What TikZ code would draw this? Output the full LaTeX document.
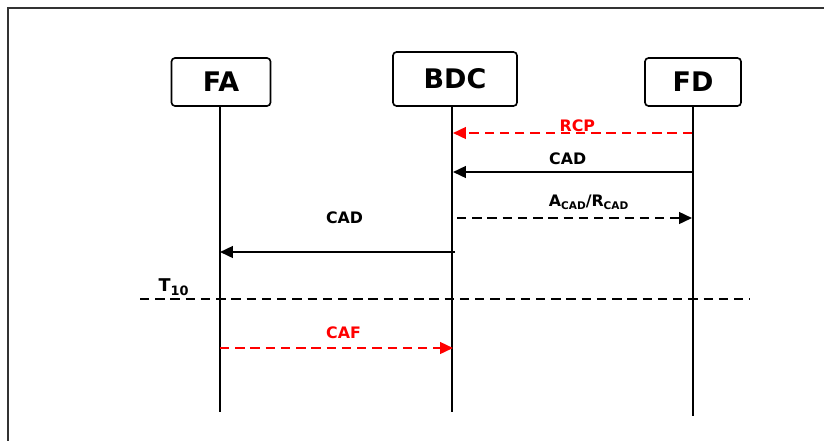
\documentclass[tikz,border=0pt]{standalone}
\usepackage{fontspec}
\setmainfont{DejaVu Sans}
\usepackage{xcolor}
\usetikzlibrary{arrows.meta}
\tikzstyle{actor} = [rectangle, draw, rounded corners=3pt, line width=1.4pt, font=\bfseries\fontsize{23}{26}\selectfont]
\tikzstyle{life} = [-, line width=1.7pt]
\tikzstyle{msg} = [line width=1.7pt, font=\bfseries\fontsize{13.5}{15}\selectfont]
\tikzstyle{dsh} = [dash pattern=on 8pt off 5pt]
\newcommand{\sub}[1]{\raisebox{-0.35ex}{\fontsize{9}{10}\selectfont #1}}

\begin{document}
\begin{tikzpicture}[x=0.03cm,y=-0.03cm,->,>={Triangle[length=11pt,width=10pt]},semithick]
  \useasboundingbox (0,0) rectangle (824,440);
  \begin{scope}
    \clip (0,0) rectangle (824,440);
    \draw[-, line width=1.6pt, black!80] (8,8) rectangle (840,460);
  \end{scope}

  \node[actor, minimum width=2.97cm, minimum height=1.44cm] (FA) at (221,82) {FA};
  \node[actor, minimum width=3.72cm, minimum height=1.62cm] (BDC) at (455,79) {BDC};
  \node[actor, minimum width=2.88cm, minimum height=1.44cm] (FD) at (693,82) {FD};

  % lifelines
  \coordinate (FA_end) at (220,412);
  \coordinate (BDC_end) at (452,412);
  \coordinate (FD_end) at (693,416);
  \draw[life] (FA.south -| FA_end) -- (FA_end);
  \draw[life] (BDC.south -| BDC_end) -- (BDC_end);
  \draw[life] (FD.south -| FD_end) -- (FD_end);

  % message points
  \coordinate (FD_1) at (692,133);  \coordinate (BDC_1) at (453,133);
  \coordinate (FD_2) at (692,172);  \coordinate (BDC_2) at (453,172);
  \coordinate (BDC_3) at (457,218); \coordinate (FD_3) at (692,218);
  \coordinate (BDC_4) at (455,252); \coordinate (FA_4) at (220,252);
  \coordinate (T_a) at (140,299);   \coordinate (T_b) at (750,299);
  \coordinate (FA_6) at (220,348);  \coordinate (BDC_6) at (453,348);

  \path (FD_1) edge[msg, dsh, red] node[above=-3pt, pos=0.48] {RCP} (BDC_1);
  \path (FD_2) edge[msg] node[above=2pt, pos=0.52] {CAD} (BDC_2);
  \path (BDC_3) edge[msg, dsh] node[above=3pt, pos=0.56] {A\sub{CAD}/R\sub{CAD}} (FD_3);
  \path (BDC_4) edge[msg] node[above=20pt, pos=0.47] {CAD} (FA_4);
  \path (T_a) edge[msg, dsh, -] node[above=-1pt, pos=0.055] {\fontsize{15}{17}\selectfont T\sub{\fontsize{11}{12}\selectfont 10}} (T_b);
  \path (FA_6) edge[msg, dsh, red] node[above=4pt, pos=0.53] {CAF} (BDC_6);
\end{tikzpicture}
\end{document}
